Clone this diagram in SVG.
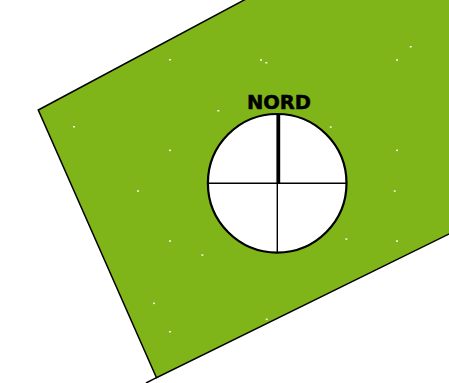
<svg xmlns="http://www.w3.org/2000/svg" width="449" height="383" viewBox="0 0 449 383">
<style>
.field{fill:#7fb518;stroke:#000;stroke-width:1.5;stroke-linejoin:miter}
.dot{fill:#f4f8e8}
.ring{fill:#fff;stroke:#000;stroke-width:2.2}
.thin{stroke:#000;stroke-width:1.4}
.thick{stroke:#000;stroke-width:3.8}
.lbl{font-family:"DejaVu Sans",sans-serif;font-weight:bold;font-size:19.5px;fill:#000;stroke:#000;stroke-width:0.5;text-anchor:middle}
</style>
<rect width="449" height="383" fill="#fff"/>
<g id="field">
<polygon class="field" points="38.3,110 246,-1 452,-1 452,232.5 156.5,377.7"/>
<line x1="156.5" y1="377.7" x2="146" y2="383" stroke="#000" stroke-width="1.5"/>
<g class="dot">
<rect x="169" y="59" width="2" height="1.5"/>
<rect x="260" y="59.3" width="2" height="1.5"/>
<rect x="265.3" y="62" width="2" height="1.5"/>
<rect x="217.3" y="110" width="2" height="1.5"/>
<rect x="73" y="126" width="2" height="1.5"/>
<rect x="409.7" y="46" width="2" height="1.5"/>
<rect x="396" y="59.3" width="2" height="1.5"/>
<rect x="329.7" y="126.3" width="2" height="1.5"/>
<rect x="396" y="149.6" width="2" height="1.5"/>
<rect x="169" y="149.6" width="2" height="1.5"/>
<rect x="137" y="190.3" width="2" height="1.5"/>
<rect x="393.7" y="190.3" width="2" height="1.5"/>
<rect x="169" y="240.3" width="2" height="1.5"/>
<rect x="201.3" y="254.3" width="2" height="1.5"/>
<rect x="345.3" y="238.3" width="2" height="1.5"/>
<rect x="396" y="240.3" width="2" height="1.5"/>
<rect x="153" y="302.6" width="2" height="1.5"/>
<rect x="169" y="331" width="2" height="1.5"/>
<rect x="265.7" y="318.6" width="2" height="1.5"/>
</g>
</g>
<g id="compass">
<circle class="ring" cx="277.2" cy="183.3" r="69.3"/>
<line class="thin" x1="208" y1="183.3" x2="346.5" y2="183.3"/>
<line class="thin" x1="277.3" y1="183.3" x2="277.3" y2="252.5"/>
<line class="thick" x1="278.3" y1="114" x2="278.3" y2="183.3"/>
</g>
<g id="label">
<text class="lbl" x="279" y="108.7">NORD</text>
</g>
</svg>
